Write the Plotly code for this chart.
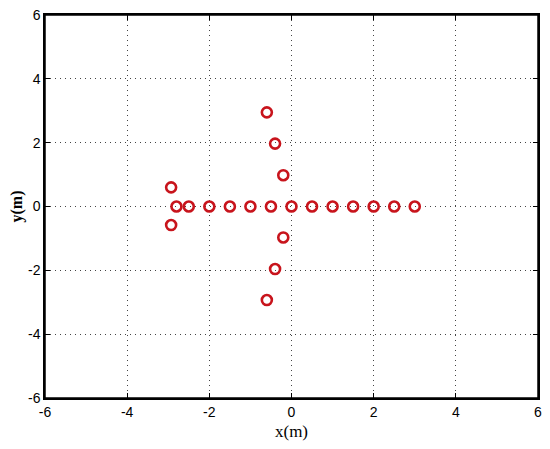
import plotly.graph_objects as go

# horizontal row of elements (y = 0)
row_x = [-2.8, -2.5, -2.0, -1.5, -1.0, -0.5, 0.0, 0.5, 1.0, 1.5, 2.0, 2.5, 3.0]
row_y = [0.0] * len(row_x)

# vertical arms and the two rear elements
arm_x = [-0.6, -0.4, -0.2, -0.2, -0.4, -0.6, -2.93, -2.93]
arm_y = [2.95, 1.97, 0.98, -0.97, -1.96, -2.93, 0.6, -0.58]

xs = row_x + arm_x
ys = row_y + arm_y

ticks = [-6, -4, -2, 0, 2, 4, 6]
tick_text = ["-6", "-4", "-2", "0", "2", "4", "6"]

fig = go.Figure()
fig.add_trace(go.Scatter(
    x=xs, y=ys, mode="markers",
    marker=dict(symbol="circle-open", size=10, color="#c8141c", line=dict(width=2.6)),
    showlegend=False,
))

axis_common = dict(
    range=[-6, 6], tickvals=ticks, ticktext=tick_text, automargin=False,
    showline=True, linecolor="black", linewidth=1.5,
    mirror="ticks", ticks="inside", ticklen=5, tickcolor="black", tickwidth=1,
    showgrid=True, gridcolor="#444444", griddash="1px,4px", gridwidth=1,
    zeroline=False, ticklabeloverflow="allow",
    tickfont=dict(family="Liberation Sans Narrow, Liberation Sans, Arial", size=14, color="black"),
)

fig.update_xaxes(**axis_common, title=dict(text="x(m)", standoff=8,
                 font=dict(family="Liberation Serif, Times New Roman", size=17, color="black")))
fig.update_yaxes(**axis_common, title=dict(text="<b>y(m)</b>", standoff=9,
                 font=dict(family="Liberation Serif, Times New Roman", size=16, color="black")))

# box around the plot area
fig.add_shape(type="rect", xref="paper", yref="paper", x0=0, y0=0, x1=1, y1=1,
              line=dict(color="black", width=1.5), layer="above")

# page body adds an 8px margin, so the figure is 16px smaller than the window
fig.update_layout(
    width=534, height=433,
    margin=dict(l=37, r=4, t=7, b=43),
    plot_bgcolor="white", paper_bgcolor="white",
)

fig.write_html("out.html")
